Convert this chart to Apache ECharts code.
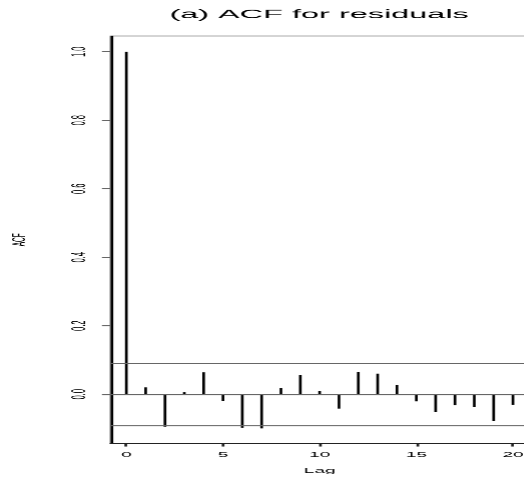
<!DOCTYPE html>
<html>
<head>
<meta charset="utf-8">
<script src="https://cdn.jsdelivr.net/npm/echarts@6/dist/echarts.min.js"></script>
<style>
html, body { margin: 0; padding: 0; overflow: hidden; background: #fff; }
/* the reference is an R plot stretched sideways, so draw it narrow and stretch it */
#myChart { width: 194.1px; height: 478px; transform: scaleX(2.7); transform-origin: 0 0; }
</style>
</head>
<body>
<div id="myChart"></div>
<script>
var lags = [0, 1, 2, 3, 4, 5, 6, 7, 8, 9, 10, 11, 12, 13, 14, 15, 16, 17, 18, 19, 20];
var acfValues = [1.0, 0.020, -0.095, 0.006, 0.064, -0.020, -0.098, -0.100, 0.018, 0.056, 0.009,
  -0.042, 0.065, 0.060, 0.027, -0.021, -0.052, -0.032, -0.037, -0.079, -0.031];
var xTicks = [0, 5, 10, 15, 20];
var yTicks = [0, 0.2, 0.4, 0.6, 0.8, 1.0];
var ciBound = 0.088; // 1.96 / sqrt(n)

var font = "Liberation Sans";

function drawChart() {
  var myChart = echarts.init(document.getElementById("myChart"), null, { devicePixelRatio: 2.7 });
  myChart.setOption({
    animation: false,
    title: {
      text: "(a) ACF for residuals",
      left: 118,
      top: 9,
      textAlign: "center",
      padding: 0,
      textStyle: { fontFamily: font, fontSize: 12, fontWeight: "normal", color: "#000" },
    },
    grid: {
      left: 41,
      top: 36,
      width: 154.4,
      height: 407.3,
      show: true,
      borderColor: "#555",
      borderWidth: 0.8, // plot box, right side falls outside the page
      outerBoundsMode: "none",
    },
    xAxis: {
      type: "value",
      min: -0.8,
      max: 20.8,
      name: "Lag",
      nameLocation: "middle",
      nameGap: 24,
      nameTextStyle: { fontFamily: font, fontSize: 7, color: "#000" },
      axisLine: { show: true, onZero: false, lineStyle: { color: "#222", width: 1 } },
      axisTick: { show: true, customValues: xTicks, length: 3, lineStyle: { color: "#222" } },
      axisLabel: { customValues: xTicks, margin: 8, fontSize: 7, color: "#000", fontFamily: font },
      splitLine: { show: false },
    },
    yAxis: {
      type: "value",
      min: -0.144,
      max: 1.046,
      name: "ACF",
      nameLocation: "middle",
      nameGap: 30,
      nameRotate: 90,
      nameTextStyle: { fontFamily: font, fontSize: 6.5, color: "#000" },
      axisLine: { show: true, onZero: false, lineStyle: { color: "#000", width: 0.8 } },
      axisTick: { show: true, customValues: yTicks, length: 3.3, lineStyle: { color: "#666" } },
      axisLabel: {
        customValues: yTicks,
        rotate: 90,
        margin: 7.5,
        fontSize: 7.5,
        color: "#000",
        fontFamily: font,
        formatter: function (v) {
          return v.toFixed(1);
        },
      },
      splitLine: { show: false },
    },
    series: [
      {
        type: "bar",
        data: lags.map(function (lag, i) {
          return [lag, acfValues[i]];
        }),
        barWidth: 0.75,
        itemStyle: { color: "#000" },
        // confidence bounds and zero line
        markLine: {
          silent: true,
          symbol: "none",
          label: { show: false },
          lineStyle: { color: "#666", width: 1, type: "solid" },
          data: [{ yAxis: ciBound }, { yAxis: -ciBound }, { yAxis: 0 }],
        },
      },
    ],
  });
}

drawChart();
</script>
</body>
</html>
